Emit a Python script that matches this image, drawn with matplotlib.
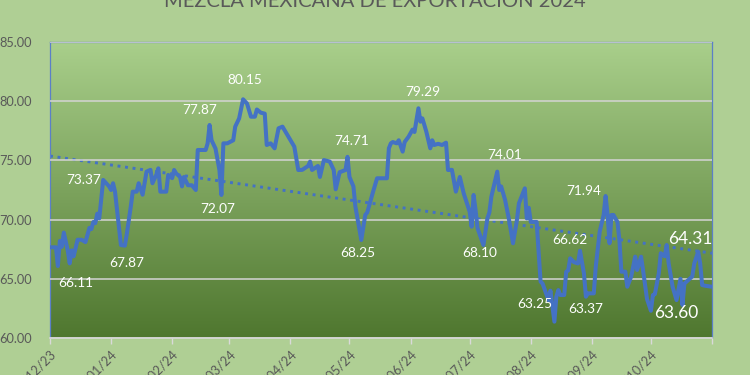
import matplotlib
matplotlib.use('Agg')
import matplotlib.pyplot as plt
import numpy as np
import pandas as pd

# ---------------- data ----------------
dates = [
    '2023-12-01', '2023-12-04', '2023-12-05', '2023-12-06', '2023-12-07', '2023-12-08',
    '2023-12-10', '2023-12-11', '2023-12-12', '2023-12-13', '2023-12-15', '2023-12-17',
    '2023-12-19', '2023-12-21', '2023-12-22', '2023-12-23', '2023-12-24', '2023-12-25',
    '2023-12-26', '2023-12-28', '2023-12-31', '2024-01-01', '2024-01-02', '2024-01-03',
    '2024-01-05', '2024-01-06', '2024-01-08', '2024-01-09', '2024-01-11', '2024-01-12',
    '2024-01-14', '2024-01-15', '2024-01-17', '2024-01-19', '2024-01-21', '2024-01-22',
    '2024-01-24', '2024-01-25', '2024-01-26', '2024-01-29', '2024-01-30', '2024-02-01',
    '2024-02-02', '2024-02-03', '2024-02-05', '2024-02-06', '2024-02-07', '2024-02-09',
    '2024-02-11', '2024-02-13', '2024-02-14', '2024-02-18', '2024-02-19', '2024-02-20',
    '2024-02-21', '2024-02-23', '2024-02-25', '2024-02-26', '2024-02-27', '2024-02-29',
    '2024-03-03', '2024-03-04', '2024-03-06', '2024-03-08', '2024-03-10', '2024-03-12',
    '2024-03-14', '2024-03-15', '2024-03-17', '2024-03-19', '2024-03-20', '2024-03-22',
    '2024-03-24', '2024-03-26', '2024-03-28', '2024-03-31', '2024-04-03', '2024-04-05',
    '2024-04-07', '2024-04-10', '2024-04-11', '2024-04-12', '2024-04-15', '2024-04-16',
    '2024-04-18', '2024-04-21', '2024-04-23', '2024-04-24', '2024-04-26', '2024-04-29',
    '2024-04-30', '2024-05-01', '2024-05-03', '2024-05-04', '2024-05-07', '2024-05-09',
    '2024-05-10', '2024-05-13', '2024-05-15', '2024-05-20', '2024-05-21', '2024-05-22',
    '2024-05-23', '2024-05-25', '2024-05-26', '2024-05-28', '2024-05-29', '2024-05-31',
    '2024-06-02', '2024-06-03', '2024-06-05', '2024-06-06', '2024-06-07', '2024-06-09',
    '2024-06-11', '2024-06-12', '2024-06-13', '2024-06-15', '2024-06-17', '2024-06-19',
    '2024-06-20', '2024-06-22', '2024-06-24', '2024-06-26', '2024-06-28', '2024-07-01',
    '2024-07-02', '2024-07-03', '2024-07-04', '2024-07-05', '2024-07-08', '2024-07-10',
    '2024-07-11', '2024-07-12', '2024-07-15', '2024-07-16', '2024-07-17', '2024-07-19',
    '2024-07-21', '2024-07-23', '2024-07-25', '2024-07-26', '2024-07-29', '2024-07-30',
    '2024-07-31', '2024-08-01', '2024-08-04', '2024-08-06', '2024-08-07', '2024-08-10',
    '2024-08-11', '2024-08-13', '2024-08-14', '2024-08-15', '2024-08-16', '2024-08-18',
    '2024-08-19', '2024-08-20', '2024-08-21', '2024-08-23', '2024-08-25', '2024-08-26',
    '2024-08-28', '2024-08-29', '2024-08-30', '2024-09-02', '2024-09-03', '2024-09-05',
    '2024-09-07', '2024-09-08', '2024-09-09', '2024-09-10', '2024-09-11', '2024-09-12',
    '2024-09-14', '2024-09-15', '2024-09-16', '2024-09-18', '2024-09-19', '2024-09-21',
    '2024-09-23', '2024-09-24', '2024-09-26', '2024-09-27', '2024-09-29', '2024-10-01',
    '2024-10-02', '2024-10-03', '2024-10-05', '2024-10-06', '2024-10-08', '2024-10-09',
    '2024-10-10', '2024-10-12', '2024-10-14', '2024-10-16', '2024-10-17', '2024-10-18',
    '2024-10-20', '2024-10-22', '2024-10-23', '2024-10-25', '2024-10-26', '2024-10-27',
    '2024-10-29', '2024-10-31',
]
prices = [
    67.66, 67.66, 66.08, 68.20, 67.70, 68.90,
    67.40, 66.30, 67.40, 66.90, 68.30, 68.30,
    68.10, 69.30, 69.20, 69.80, 69.70, 70.50,
    70.10, 73.35, 72.80, 72.50, 73.07, 72.36,
    69.40, 67.85, 67.80, 68.80, 71.10, 72.36,
    72.36, 73.07, 72.10, 74.05, 74.20, 73.07,
    73.80, 74.33, 72.36, 72.36, 73.77, 73.50,
    74.19, 73.90, 73.60, 72.80, 73.60, 72.90,
    72.90, 72.50, 75.88, 75.88, 76.44, 77.99,
    76.70, 76.00, 74.19, 72.08, 76.44, 76.44,
    76.70, 77.85, 78.55, 80.16, 79.80, 78.69,
    78.69, 79.30, 79.03, 78.95, 76.30, 76.44,
    76.02, 77.71, 77.85, 77.00, 76.16, 74.19,
    74.20, 74.53, 74.90, 74.19, 74.53, 73.60,
    75.03, 74.90, 74.19, 72.56, 74.00, 74.19,
    75.30, 73.60, 72.80, 71.10, 68.28, 70.39,
    70.60, 72.36, 73.49, 73.49, 76.02, 76.44,
    76.55, 76.44, 76.70, 75.74, 76.55, 77.00,
    77.60, 77.40, 79.40, 78.27, 78.55, 77.43,
    76.02, 76.70, 76.30, 76.40, 76.30, 76.50,
    74.19, 74.20, 72.36, 73.60, 72.20, 70.67,
    69.40, 72.08, 70.80, 69.27, 67.85, 70.10,
    70.60, 71.93, 74.05, 72.50, 72.80, 71.65,
    69.97, 68.00, 69.97, 71.37, 72.64, 70.10,
    71.00, 69.80, 69.80, 64.76, 64.60, 63.20,
    64.00, 61.38, 63.49, 64.05, 63.63, 63.63,
    65.60, 65.70, 66.73, 66.40, 66.30, 67.37,
    65.46, 63.49, 63.77, 63.77, 66.02, 68.98,
    70.39, 71.99, 70.40, 68.00, 70.39, 70.39,
    69.80, 68.28, 65.60, 65.60, 64.33, 65.20,
    66.87, 65.74, 66.87, 65.74, 63.30, 62.30,
    63.63, 63.70, 65.46, 67.16, 66.90, 67.85,
    66.30, 64.33, 63.20, 65.00, 62.79, 64.60,
    64.90, 65.20, 66.30, 67.29, 66.30, 64.47,
    64.40, 64.35,
]

trend_dates = ['2023-12-01', '2024-11-01']
trend_values = [75.37, 67.16]

tick_dates = ['2023-12-01', '2024-01-01', '2024-02-01', '2024-03-01', '2024-04-01',
              '2024-05-01', '2024-06-01', '2024-07-01', '2024-08-01', '2024-09-01',
              '2024-10-01', '2024-11-01']
tick_labels = ['01/12/23', '01/01/24', '01/02/24', '01/03/24', '01/04/24', '01/05/24',
               '01/06/24', '01/07/24', '01/08/24', '01/09/24', '01/10/24', '']
y_ticks = [60, 65, 70, 75, 80, 85]

label_texts = ['73.37', '66.11', '67.87', '77.87', '72.07', '80.15', '74.71', '68.25',
               '79.29', '68.10', '74.01', '63.25', '66.62', '63.37', '71.94', '64.31', '63.60']
label_dates = ['2023-12-18', '2023-12-14', '2024-01-09', '2024-02-15', '2024-02-24',
               '2024-03-09', '2024-05-02', '2024-05-05', '2024-06-07', '2024-07-06',
               '2024-07-19', '2024-08-03', '2024-08-21', '2024-08-29', '2024-08-28',
               '2024-10-21', '2024-10-14']
label_values = [73.34, 64.62, 66.31, 79.26, 70.90, 81.79, 76.68, 67.22,
                80.80, 67.22, 75.46, 62.87, 68.25, 62.47, 72.42, 68.32, 62.11]
label_big = [False] * 15 + [True, True]

title = 'MEZCLA MEXICANA DE EXPORTACION 2024'

# ---------------- styling ----------------
FONT = ['Lato', 'DejaVu Sans']
plt.rcParams['font.family'] = FONT
LINE = '#4472C4'
GRAY_TXT = '#595959'
BG = '#AFCF94'

fig = plt.figure(figsize=(7.5, 3.75), dpi=100, facecolor=BG)
ax = fig.add_axes([50 / 750, 1 - 338 / 375, 662 / 750, 296 / 375])

# gradient plot area
top = np.array([0xA9, 0xCF, 0x8B]) / 255
bot = np.array([0x4F, 0x77, 0x2F]) / 255
t = np.linspace(0, 1, 256)[:, None]
grad = (top[None, :] * (1 - t) + bot[None, :] * t)[:, None, :]
ax.imshow(grad, extent=[0, 1, 0, 1], transform=ax.transAxes, aspect='auto',
          origin='upper', zorder=0, interpolation='bilinear')

x = pd.to_datetime(dates)
ax.plot(x, prices, color=LINE, lw=2.9, solid_joinstyle='round', zorder=3)
ax.plot(pd.to_datetime(trend_dates), trend_values, color=LINE, lw=2.1,
        linestyle=(0, (1, 1.6)), zorder=2)

for txt, d, v, big in zip(label_texts, pd.to_datetime(label_dates), label_values, label_big):
    ax.text(d, v, txt, color='white', fontsize=12.5 if big else 9.8,
            ha='center', va='center', zorder=4)

ax.set_xlim(pd.Timestamp(tick_dates[0]), pd.Timestamp(tick_dates[-1]))
ax.set_ylim(60, 85)
ax.set_yticks(y_ticks)
ax.set_yticklabels([f'{v:.2f}' for v in y_ticks])
ax.set_xticks(pd.to_datetime(tick_dates))
ax.set_xticklabels(tick_labels, rotation=45, ha='right', va='top', rotation_mode='anchor')

ax.grid(axis='y', color='#D4D4D4', lw=1.1, zorder=1)
ax.set_axisbelow(False)
for gl in ax.get_ygridlines():
    gl.set_zorder(1)

ax.tick_params(axis='y', length=0, pad=13, labelsize=9.2, labelcolor=GRAY_TXT)
ax.tick_params(axis='x', length=4, color='#D9D9D9', width=1, pad=3,
               labelsize=9.2, labelcolor=GRAY_TXT)
for s in ['left', 'right', 'top']:
    ax.spines[s].set_color('#5B7FC8')
    ax.spines[s].set_linewidth(0.9)
ax.spines['bottom'].set_color('#D9D9D9')
ax.spines['bottom'].set_linewidth(1.2)

fig.text(0.5, 1 - 7 / 375, title, ha='center', va='baseline', fontsize=14.5,
         color=GRAY_TXT)

fig.savefig('out.png', dpi=100, facecolor=BG)
